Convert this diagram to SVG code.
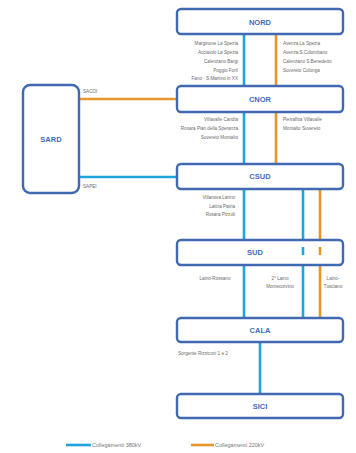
<svg xmlns="http://www.w3.org/2000/svg" width="356" height="453" viewBox="0 0 356 453">
<style>
.box{fill:#fff;stroke:#4069b2;stroke-width:2.4}
.name{font-family:"Liberation Sans",Arial,sans-serif;font-size:7.5px;font-weight:bold;fill:#3d6cc0;text-anchor:middle}
.lbl{font-family:"Liberation Sans",Arial,sans-serif;font-size:4.6px;fill:#6b6b6b}
.r{text-anchor:end}
.m{text-anchor:middle}
.b{stroke:#1ea5dd;stroke-width:2.6;fill:none}
.o{stroke:#e8962b;stroke-width:2.6;fill:none}
.leg{font-family:"Liberation Sans",Arial,sans-serif;font-size:5.5px;fill:#777}
</style>
<rect width="356" height="453" fill="#fff"/>
<g id="connectors">
<line class="b" x1="244" y1="34" x2="244" y2="86"/>
<line class="o" x1="276" y1="34" x2="276" y2="86"/>
<line class="b" x1="244" y1="112" x2="244" y2="164"/>
<line class="o" x1="276" y1="112" x2="276" y2="164"/>
<line class="b" x1="244" y1="189" x2="244" y2="318"/>
<line class="b" x1="303" y1="189" x2="303" y2="318"/>
<line class="o" x1="320" y1="189" x2="320" y2="318"/>
<line class="b" x1="260" y1="342" x2="260" y2="394"/>
<line class="o" x1="79" y1="99" x2="178" y2="99"/>
<line class="b" x1="79" y1="177" x2="178" y2="177"/>
</g>
<g id="NORD"><rect class="box" x="177" y="9" width="166" height="25" rx="4"/><text class="name" x="260" y="24.5">NORD</text></g>
<g id="CNOR"><rect class="box" x="177" y="86" width="166" height="26" rx="4"/><text class="name" x="260" y="101.5">CNOR</text></g>
<g id="CSUD"><rect class="box" x="177" y="164" width="166" height="25" rx="4"/><text class="name" x="260" y="179">CSUD</text></g>
<g id="SUD"><rect class="box" x="177" y="240" width="166" height="25" rx="4"/><text class="name" x="255" y="255">SUD</text>
<line class="b" x1="303" y1="247" x2="303" y2="255"/><line class="o" x1="320" y1="247" x2="320" y2="255"/></g>
<g id="CALA"><rect class="box" x="177" y="318" width="166" height="24" rx="4"/><text class="name" x="260" y="333">CALA</text></g>
<g id="SICI"><rect class="box" x="177" y="394" width="166" height="24" rx="4"/><text class="name" x="260" y="409">SICI</text></g>
<g id="SARD"><rect class="box" x="23" y="85" width="56" height="108" rx="7"/><text class="name" x="51" y="142">SARD</text></g>
<g id="labels">
<text class="lbl" x="83" y="93">SACOI</text>
<text class="lbl" x="83" y="188">SAPEI</text>
<text class="lbl r" x="238" y="45">Marginone La Spezia</text>
<text class="lbl r" x="238" y="54">Acciaiolo La Spezia</text>
<text class="lbl r" x="238" y="63">Calenzano Bargi</text>
<text class="lbl r" x="238" y="72">Poggio Forlì</text>
<text class="lbl r" x="238" y="80">Fano - S.Martino in XX</text>
<text class="lbl" x="283" y="45">Avenza La Spezia</text>
<text class="lbl" x="283" y="54">Avenza S.Colombano</text>
<text class="lbl" x="283" y="63">Calenzano S.Benedetto</text>
<text class="lbl" x="283" y="72">Suvereto Colunga</text>
<text class="lbl r" x="238" y="121">Villavalle Candia</text>
<text class="lbl r" x="238" y="130">Rosara Pian della Speranza</text>
<text class="lbl r" x="238" y="139">Suvereto Montalto</text>
<text class="lbl" x="283" y="121">Pietrafitta Villavalle</text>
<text class="lbl" x="283" y="130">Montalto Suvereto</text>
<text class="lbl r" x="235" y="199">Villanova Larino</text>
<text class="lbl r" x="235" y="208">Latina Patria</text>
<text class="lbl r" x="235" y="216">Rosara Pizzoli</text>
<text class="lbl m" x="215" y="280">Laino-Rossano</text>
<text class="lbl m" x="280" y="280">2° Laino</text>
<text class="lbl m" x="280" y="288">Montecorvino</text>
<text class="lbl m" x="333" y="280">Laino-</text>
<text class="lbl m" x="333" y="288">Tusciano</text>
<text class="lbl" x="178" y="355">Sorgente Rizziconi 1 e 2</text>
</g>
<g id="legend">
<line class="b" x1="66" y1="445" x2="91" y2="445"/>
<text class="leg" x="92" y="447">Collegamenti 380kV</text>
<line class="o" x1="191" y1="445" x2="214" y2="445"/>
<text class="leg" x="215" y="447">Collegamenti 220kV</text>
</g>
</svg>
